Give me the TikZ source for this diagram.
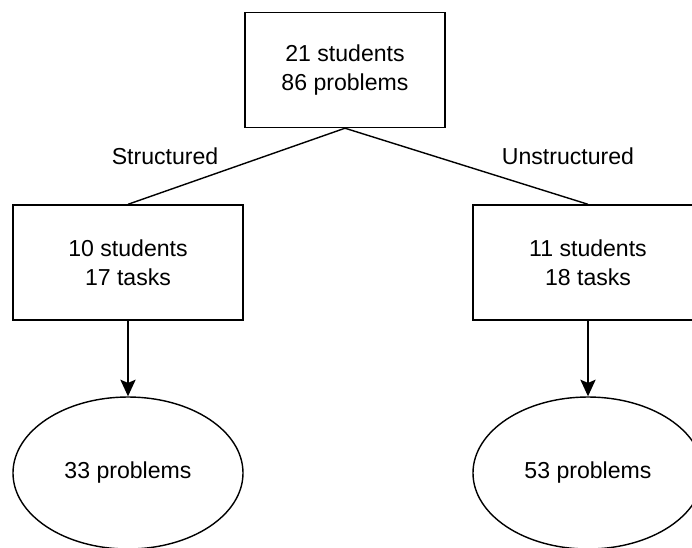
\documentclass[tikz,border=0pt]{standalone}
\usepackage{fontspec}
\setmainfont{Liberation Sans}
\usetikzlibrary{arrows.meta, positioning, shapes.geometric}

\begin{document}
\begin{tikzpicture}[
    x=0.03cm, y=-0.03cm,
    >={Stealth[length=5mm, width=4.6mm, inset=1mm]},
    every node/.style={font=\fontsize{19.7}{24.6}\selectfont, align=center},
    box/.style={draw, line width=1.2pt, minimum width=6.9cm, minimum height=3.45cm, inner sep=0pt},
    leaf/.style={draw, ellipse, line width=1.2pt, minimum width=6.9cm, minimum height=4.56cm, inner sep=0pt},
    link/.style={line width=1.2pt},
]
\useasboundingbox (0,0) rectangle (692,547);
% root
\node[box, minimum width=6cm] (all) at (345,70) {21 students\\86 problems};
% the two groups
\node[box] (struct) at (128,262.5) {10 students\\17 tasks};
\node[box] (unstruct) at (588,262.5) {11 students\\18 tasks};
% problems found per group
\node[leaf] (probS) at (128,473) {33 problems};
\node[leaf] (probU) at (588,473) {53 problems};
% split
\draw[link] (all.south) -- (struct.north);
\draw[link] (all.south) -- (unstruct.north);
\node (labS) at (165,156) {Structured};
\node (labU) at (568,156) {Unstructured};
% results
\draw[link, ->] (struct.south) -- (probS.north);
\draw[link, ->] (unstruct.south) -- (probU.north);
\end{tikzpicture}
\end{document}
